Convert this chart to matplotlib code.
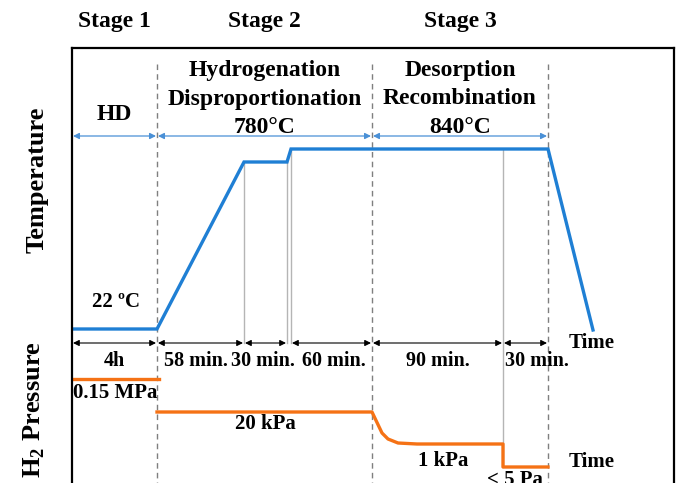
import numpy as np
import matplotlib
matplotlib.use('Agg')
import matplotlib.pyplot as plt

plt.rcParams['font.family'] = 'Liberation Serif'
plt.rcParams['font.weight'] = 'bold'
plt.rcParams['mathtext.fontset'] = 'custom'
plt.rcParams['mathtext.rm'] = 'Liberation Serif:bold'
plt.rcParams['mathtext.bf'] = 'Liberation Serif:bold'

# schematic time axis (not to scale), schematic levels measured downward
stage_names = ['Stage 1', 'Stage 2', 'Stage 3']
stage_edges = [0, 85, 300, 476]
stage_titles = ['HD', 'Hydrogenation\nDisproportionation\n780°C',
                'Desorption\nRecombination\n840°C']

seg_labels = ['4h', '58 min.', '30 min.', '60 min.', '90 min.', '30 min.']
seg_start = [0, 85, 172, 219, 300, 431]
seg_end = [85, 172, 215, 300, 431, 476]

temp_t = [0, 85, 172, 215, 219, 476, 521]
temp_y = [281, 281, 114, 114, 101, 101, 282]

press1_t = [0, 87]
press1_y = [331, 331]
press2_t = [85, 300, 310, 316, 326, 345, 431, 431, 476]
press2_y = [364, 364, 385, 391, 395, 396, 396, 419, 419]

# grey marker lines: (time, top level, bottom level)
mark_t = [172, 215, 219, 431]
mark_top = [114, 114, 101, 101]
mark_bot = [295, 295, 295, 419]

BLUE = '#1f7fd4'
ORANGE = '#f57215'
LBLUE = '#4a90d6'

W, H = 676, 483
fig = plt.figure(figsize=(W / 100, H / 100), dpi=100)
left, right, top, bot = 72, 674, 48, 520
ax = fig.add_axes([left / W, (H - bot) / H, (right - left) / W, (bot - top) / H])
ax.set_xlim(0, right - left)
ax.set_ylim(bot - top, 0)
ax.set_xticks([])
ax.set_yticks([])
for s in ax.spines.values():
    s.set_linewidth(1.6)

# dashed stage boundaries
for x in stage_edges[1:]:
    ax.plot([x, x], [16, bot - top], ls=(0, (4, 3)), color='#7f7f7f', lw=1.0)

# grey markers
for x, y0, y1 in zip(mark_t, mark_top, mark_bot):
    ax.plot([x, x], [y0, y1], color='#b5b5b5', lw=1.0)

# temperature and pressure
ax.plot(temp_t, temp_y, color=BLUE, lw=2.4, solid_joinstyle='miter')
ax.plot(press1_t, press1_y, color=ORANGE, lw=2.4)
ax.plot(press2_t, press2_y, color=ORANGE, lw=2.4)

# stage arrows
for a, b in zip(stage_edges[:-1], stage_edges[1:]):
    ax.annotate('', xy=(a + 1, 88), xytext=(b - 1, 88),
                arrowprops=dict(arrowstyle='<|-|>', color=LBLUE, lw=0.9,
                                mutation_scale=9, shrinkA=0, shrinkB=0))

# duration arrows
for a, b, lab in zip(seg_start, seg_end, seg_labels):
    ax.annotate('', xy=(a + 1, 295), xytext=(b - 1, 295),
                arrowprops=dict(arrowstyle='<|-|>', color='black', lw=0.8,
                                mutation_scale=9, shrinkA=0, shrinkB=0))
    xm = (a + b) / 2
    if b == seg_end[-1]:
        xm += 11
    elif a == seg_start[1]:
        xm -= 5
    elif a == seg_start[2]:
        xm -= 3
    elif a == seg_start[3]:
        xm += 2
    ax.text(xm, 313, lab, ha='center', va='center', fontsize=14.5)

# stage headers and titles
for i, name in enumerate(stage_names):
    xm = (stage_edges[i] + stage_edges[i + 1]) / 2
    ax.text(xm, -26, name, ha='center', va='center', fontsize=17, clip_on=False)
    yt = 66 if i == 0 else 51
    ax.text(xm, yt, stage_titles[i], ha='center', va='center', fontsize=17,
            multialignment='center', linespacing=1.45)

ax.text(44, 254, '22 ºC', ha='center', va='center', fontsize=15)
ax.text(43, 345, '0.15 MPa', ha='center', va='center', fontsize=15)
ax.text(193, 376, '20 kPa', ha='center', va='center', fontsize=15)
ax.text(371, 413, '1 kPa', ha='center', va='center', fontsize=15)
ax.text(443, 432, '< 5 Pa', ha='center', va='center', fontsize=15)
ax.text(520, 295, 'Time', ha='center', va='center', fontsize=15)
ax.text(520, 414, 'Time', ha='center', va='center', fontsize=15)

fig.text(37 / W, 1 - 180 / H, 'Temperature', rotation=90, ha='center',
         va='center', fontsize=19)
fig.text(34 / W, 1 - 410 / H, r'H$_\mathbf{2}$ Pressure', rotation=90,
         ha='center', va='center', fontsize=19)

fig.savefig('out.png', dpi=100)
